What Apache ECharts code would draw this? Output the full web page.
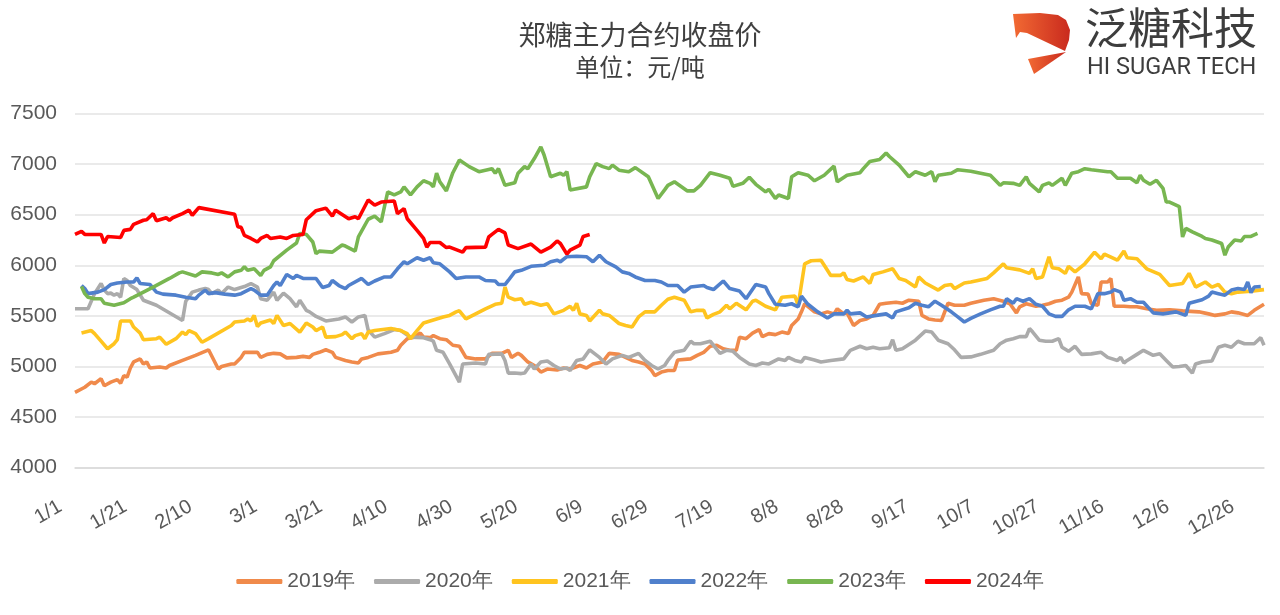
<!DOCTYPE html>
<html>
<head>
<meta charset="utf-8">
<script src="https://cdn.jsdelivr.net/npm/echarts@6/dist/echarts.min.js"></script>
<style>html,body{margin:0;padding:0;background:#fff}#c{width:1280px;height:615px}</style>
</head>
<body>
<div id="c"></div>
<script>
// categories: calendar days (leap-year calendar, m/d)
const monthDays = [31,29,31,30,31,30,31,31,30,31,30,31];
const dates = [];
monthDays.forEach((n, m) => { for (let d = 1; d <= n; d++) dates.push((m + 1) + '/' + d); });

const yTicks = {min: 4000, max: 7500, step: 500};
const legendNames = ['2019年','2020年','2021年','2022年','2023年','2024年'];

const s2019 = [['1/1',4745],['1/4',4795],['1/6',4845],['1/7',4830],['1/9',4880],['1/10',4810],['1/12',4845],['1/14',4870],['1/15',4835],['1/16',4910],['1/17',4895],['1/18',4985],['1/19',5045],['1/21',5075],['1/22',5025],['1/23',5045],['1/24',4985],['1/27',4995],['1/29',4985],['1/30',5010],['2/3',5060],['2/7',5110],['2/11',5165],['2/14',4975],['2/15',5000],['2/18',5025],['2/19',5025],['2/21',5090],['2/22',5140],['2/26',5140],['2/27',5090],['2/29',5120],['3/2',5130],['3/4',5125],['3/6',5085],['3/9',5090],['3/11',5100],['3/13',5090],['3/14',5120],['3/16',5140],['3/18',5165],['3/20',5140],['3/21',5090],['3/24',5060],['3/26',5045],['3/28',5035],['3/29',5075],['3/31',5090],['4/3',5125],['4/7',5140],['4/9',5160],['4/10',5210],['4/12',5275],['4/14',5290],['4/16',5330],['4/17',5290],['4/19',5285],['4/20',5305],['4/22',5275],['4/24',5265],['4/26',5210],['4/28',5200],['4/30',5090],['5/3',5075],['5/6',5075],['5/8',5130],['5/11',5130],['5/13',5160],['5/14',5090],['5/16',5130],['5/17',5110],['5/19',5045],['5/21',5010],['5/23',4945],['5/25',4975],['5/28',4965],['5/30',4985],['6/1',4975],['6/4',5010],['6/6',4985],['6/8',5025],['6/11',5045],['6/13',5130],['6/16',5120],['6/18',5090],['6/20',5060],['6/22',5045],['6/24',5025],['6/26',4960],['6/27',4910],['6/29',4945],['7/1',4960],['7/3',4960],['7/4',5065],['7/8',5075],['7/10',5110],['7/12',5140],['7/14',5200],['7/16',5210],['7/18',5175],['7/20',5160],['7/22',5160],['7/23',5290],['7/25',5275],['7/27',5330],['7/29',5365],['7/30',5295],['8/1',5325],['8/3',5315],['8/5',5340],['8/7',5325],['8/8',5405],['8/10',5470],['8/11',5540],['8/12',5620],['8/15',5540],['8/17',5520],['8/19',5540],['8/21',5520],['8/22',5570],['8/24',5520],['8/25',5530],['8/27',5405],['8/29',5455],['8/31',5470],['9/2',5505],['9/4',5615],['9/6',5625],['9/9',5635],['9/11',5625],['9/13',5655],['9/16',5645],['9/17',5505],['9/19',5470],['9/21',5460],['9/23',5455],['9/25',5625],['9/27',5605],['9/30',5605],['10/2',5625],['10/6',5655],['10/9',5670],['10/12',5645],['10/14',5620],['10/16',5530],['10/17',5590],['10/19',5620],['10/22',5595],['10/24',5605],['10/26',5620],['10/28',5645],['10/30',5655],['11/1',5685],['11/2',5735],['11/4',5885],['11/5',5720],['11/7',5715],['11/8',5620],['11/10',5605],['11/11',5835],['11/13',5835],['11/14',5870],['11/15',5595],['11/18',5595],['11/20',5590],['11/22',5590],['11/25',5570],['11/28',5555],['12/2',5560],['12/6',5550],['12/11',5540],['12/14',5520],['12/16',5505],['12/19',5520],['12/21',5540],['12/23',5530],['12/26',5505],['12/28',5555],['12/31',5615]];

const s2020 = [['1/1',5570],['1/5',5570],['1/7',5720],['1/9',5820],['1/10',5755],['1/11',5720],['1/12',5725],['1/13',5705],['1/14',5720],['1/15',5685],['1/16',5870],['1/17',5850],['1/18',5800],['1/20',5760],['1/22',5655],['1/26',5605],['2/3',5455],['2/4',5645],['2/6',5735],['2/8',5755],['2/10',5770],['2/11',5760],['2/12',5720],['2/14',5755],['2/15',5720],['2/17',5785],['2/19',5760],['2/20',5770],['2/22',5790],['2/24',5820],['2/26',5785],['2/27',5670],['2/29',5655],['3/2',5735],['3/3',5655],['3/5',5725],['3/7',5670],['3/9',5590],['3/10',5655],['3/12',5555],['3/13',5540],['3/15',5495],['3/18',5450],['3/20',5460],['3/22',5470],['3/24',5490],['3/26',5440],['3/28',5490],['3/30',5505],['3/31',5360],['4/2',5290],['4/5',5325],['4/8',5365],['4/10',5355],['4/13',5290],['4/17',5285],['4/19',5265],['4/20',5250],['4/21',5160],['4/23',5140],['4/25',5025],['4/28',4845],['4/29',5025],['5/3',5035],['5/6',5025],['5/7',5120],['5/11',5125],['5/12',5060],['5/13',4935],['5/15',4935],['5/17',4930],['5/18',4935],['5/20',5025],['5/21',4975],['5/23',5045],['5/25',5055],['5/27',5010],['5/29',4975],['5/31',4985],['6/1',4960],['6/3',5060],['6/5',5075],['6/7',5165],['6/10',5090],['6/12',5025],['6/14',5075],['6/17',5110],['6/19',5090],['6/22',5130],['6/24',5060],['6/26',5010],['6/28',4975],['6/30',5010],['7/1',5060],['7/3',5140],['7/6',5160],['7/8',5250],['7/9',5225],['7/11',5225],['7/14',5250],['7/17',5130],['7/19',5160],['7/21',5150],['7/23',5090],['7/26',5025],['7/28',5010],['7/30',5035],['8/1',5025],['8/4',5075],['8/6',5060],['8/7',5090],['8/9',5060],['8/11',5045],['8/12',5090],['8/15',5065],['8/17',5045],['8/20',5060],['8/24',5075],['8/26',5160],['8/29',5200],['8/31',5175],['9/2',5190],['9/4',5175],['9/7',5185],['9/8',5265],['9/9',5160],['9/11',5175],['9/15',5260],['9/18',5350],['9/20',5340],['9/22',5260],['9/25',5225],['9/27',5165],['9/29',5090],['10/2',5095],['10/5',5120],['10/9',5160],['10/11',5225],['10/13',5260],['10/15',5275],['10/17',5295],['10/19',5295],['10/20',5375],['10/21',5340],['10/23',5260],['10/25',5250],['10/27',5250],['10/29',5275],['10/30',5190],['11/1',5150],['11/3',5200],['11/5',5120],['11/8',5125],['11/11',5140],['11/13',5090],['11/16',5060],['11/17',5090],['11/18',5035],['11/19',5060],['11/22',5120],['11/24',5160],['11/27',5110],['11/29',5125],['12/1',5060],['12/3',4995],['12/5',5000],['12/7',5010],['12/9',4935],['12/10',5025],['12/12',5045],['12/15',5055],['12/17',5190],['12/19',5210],['12/21',5190],['12/23',5250],['12/25',5225],['12/28',5225],['12/30',5285],['12/31',5210]];

const s2021 = [['1/3',5330],['1/6',5355],['1/7',5325],['1/9',5250],['1/11',5175],['1/13',5225],['1/14',5265],['1/15',5450],['1/18',5450],['1/19',5390],['1/21',5330],['1/22',5265],['1/26',5275],['1/27',5290],['1/29',5220],['2/1',5275],['2/3',5340],['2/4',5315],['2/5',5355],['2/7',5325],['2/9',5240],['2/11',5275],['2/18',5405],['2/19',5440],['2/22',5450],['2/23',5470],['2/24',5450],['2/25',5505],['2/26',5395],['2/27',5430],['3/1',5460],['3/2',5425],['3/3',5505],['3/5',5405],['3/7',5425],['3/10',5340],['3/12',5430],['3/14',5390],['3/15',5355],['3/17',5390],['3/18',5290],['3/21',5295],['3/23',5315],['3/24',5340],['3/26',5275],['3/27',5305],['3/29',5325],['3/30',5275],['3/31',5340],['4/2',5355],['4/7',5375],['4/10',5355],['4/12',5325],['4/13',5275],['4/15',5355],['4/17',5430],['4/20',5460],['4/23',5490],['4/25',5505],['4/27',5540],['4/28',5550],['4/30',5470],['5/3',5520],['5/6',5570],['5/9',5615],['5/11',5625],['5/12',5785],['5/13',5685],['5/15',5660],['5/17',5670],['5/18',5615],['5/20',5635],['5/23',5605],['5/25',5620],['5/27',5520],['5/30',5555],['6/1',5595],['6/2',5555],['6/3',5625],['6/4',5520],['6/6',5505],['6/7',5450],['6/10',5555],['6/11',5520],['6/13',5505],['6/16',5425],['6/18',5405],['6/20',5390],['6/22',5490],['6/24',5540],['6/27',5540],['6/29',5605],['7/1',5665],['7/3',5685],['7/6',5655],['7/8',5540],['7/10',5555],['7/12',5555],['7/13',5480],['7/15',5515],['7/17',5540],['7/19',5605],['7/20',5570],['7/22',5625],['7/25',5560],['7/27',5645],['7/28',5655],['7/31',5595],['8/3',5560],['8/5',5685],['8/9',5695],['8/10',5605],['8/12',6015],['8/14',6045],['8/17',6050],['8/18',6000],['8/20',5900],['8/23',5900],['8/24',5925],['8/25',5860],['8/27',5845],['8/30',5885],['9/1',5820],['9/2',5910],['9/5',5935],['9/8',5965],['9/10',5870],['9/12',5850],['9/15',5785],['9/16',5885],['9/18',5825],['9/22',5755],['9/24',5800],['9/26',5810],['9/27',5770],['9/30',5825],['10/2',5835],['10/7',5870],['10/9',5925],['10/12',6015],['10/13',5975],['10/17',5955],['10/20',5920],['10/21',5965],['10/22',5870],['10/24',5885],['10/26',6085],['10/27',5975],['10/29',5965],['10/31',5920],['11/1',5990],['11/3',5935],['11/6',6015],['11/9',6130],['11/11',6065],['11/12',6110],['11/16',6050],['11/18',6140],['11/19',6075],['11/22',6065],['11/25',5965],['11/29',5910],['12/2',5800],['12/6',5820],['12/8',5920],['12/10',5785],['12/13',5835],['12/15',5785],['12/17',5810],['12/19',5735],['12/21',5720],['12/23',5735],['12/27',5745],['12/31',5760]];

const s2022 = [['1/3',5800],['1/4',5770],['1/5',5720],['1/8',5735],['1/10',5760],['1/12',5810],['1/14',5825],['1/17',5835],['1/19',5835],['1/20',5875],['1/21',5820],['1/24',5810],['1/26',5735],['1/28',5715],['2/1',5705],['2/4',5685],['2/7',5670],['2/8',5705],['2/10',5755],['2/11',5720],['2/13',5730],['2/16',5715],['2/19',5705],['2/21',5720],['2/24',5770],['2/25',5755],['2/27',5705],['2/29',5705],['3/2',5800],['3/3',5835],['3/4',5800],['3/6',5910],['3/8',5870],['3/9',5900],['3/11',5870],['3/15',5870],['3/17',5780],['3/19',5800],['3/20',5850],['3/22',5800],['3/24',5770],['3/25',5800],['3/29',5870],['3/31',5810],['4/2',5845],['4/5',5885],['4/7',5885],['4/9',5965],['4/11',6035],['4/12',6015],['4/15',6075],['4/17',6050],['4/19',6075],['4/20',6025],['4/22',6015],['4/25',5935],['4/27',5870],['4/30',5885],['5/4',5885],['5/6',5850],['5/9',5845],['5/10',5810],['5/12',5810],['5/13',5850],['5/15',5935],['5/17',5950],['5/20',5990],['5/24',6000],['5/26',6035],['5/28',6050],['5/29',6035],['5/31',6085],['6/3',6090],['6/6',6085],['6/8',6035],['6/10',6100],['6/12',6035],['6/15',5985],['6/17',5935],['6/19',5920],['6/21',5885],['6/24',5850],['6/27',5850],['6/29',5835],['7/1',5800],['7/4',5800],['7/6',5735],['7/8',5785],['7/12',5800],['7/13',5780],['7/15',5760],['7/18',5845],['7/20',5770],['7/23',5745],['7/25',5670],['7/28',5810],['7/31',5785],['8/1',5720],['8/3',5615],['8/6',5605],['8/8',5620],['8/10',5590],['8/11',5695],['8/13',5615],['8/16',5540],['8/19',5480],['8/21',5520],['8/24',5520],['8/25',5555],['8/26',5520],['8/29',5530],['8/31',5490],['9/3',5505],['9/6',5520],['9/8',5480],['9/9',5540],['9/13',5580],['9/15',5625],['9/17',5605],['9/19',5590],['9/21',5645],['9/23',5605],['9/26',5540],['9/28',5490],['9/30',5440],['10/2',5475],['10/5',5520],['10/8',5560],['10/11',5595],['10/12',5595],['10/13',5670],['10/15',5625],['10/16',5670],['10/18',5645],['10/20',5670],['10/22',5615],['10/24',5595],['10/26',5520],['10/28',5495],['10/30',5495],['11/1',5560],['11/3',5595],['11/6',5595],['11/8',5570],['11/10',5720],['11/12',5720],['11/14',5735],['11/15',5760],['11/17',5735],['11/18',5655],['11/20',5670],['11/22',5635],['11/24',5635],['11/27',5530],['11/30',5520],['12/4',5540],['12/7',5505],['12/8',5625],['12/12',5660],['12/14',5695],['12/15',5735],['12/17',5720],['12/19',5705],['12/21',5755],['12/23',5770],['12/25',5760],['12/26',5835],['12/27',5730],['12/28',5785],['12/30',5790]];

const s2023 = [['1/3',5790],['1/4',5720],['1/5',5685],['1/7',5670],['1/9',5670],['1/10',5625],['1/13',5605],['1/16',5630],['1/18',5670],['1/19',5685],['1/25',5785],['1/30',5870],['2/2',5925],['2/3',5935],['2/7',5895],['2/9',5935],['2/12',5925],['2/14',5910],['2/15',5925],['2/17',5885],['2/19',5935],['2/21',5950],['2/22',5985],['2/23',5950],['2/25',5965],['2/27',5900],['2/28',5950],['3/1',5985],['3/2',6045],['3/6',6150],['3/9',6220],['3/10',6315],['3/12',6305],['3/14',6230],['3/15',6115],['3/16',6140],['3/20',6130],['3/23',6200],['3/24',6190],['3/27',6140],['3/28',6280],['3/31',6455],['4/2',6485],['4/4',6430],['4/5',6580],['4/6',6725],['4/8',6695],['4/10',6725],['4/11',6775],['4/13',6695],['4/15',6775],['4/17',6835],['4/19',6810],['4/20',6775],['4/21',6910],['4/22',6825],['4/24',6735],['4/26',6915],['4/28',7040],['5/1',6975],['5/4',6925],['5/8',6955],['5/9',6910],['5/10',6955],['5/12',6790],['5/15',6815],['5/16',6910],['5/18',6975],['5/19',6955],['5/21',7055],['5/23',7170],['5/24',7090],['5/26',6875],['5/29',6910],['5/30',6890],['5/31',6925],['6/1',6745],['6/6',6775],['6/7',6875],['6/9',7005],['6/11',6975],['6/13',6955],['6/14',6990],['6/16',6940],['6/19',6925],['6/21',6965],['6/25',6875],['6/28',6660],['6/30',6745],['7/1',6790],['7/3',6825],['7/7',6735],['7/9',6735],['7/11',6790],['7/14',6915],['7/17',6890],['7/20',6860],['7/21',6780],['7/24',6810],['7/26',6870],['7/28',6800],['7/31',6725],['8/1',6750],['8/3',6660],['8/4',6695],['8/7',6660],['8/8',6875],['8/10',6915],['8/13',6890],['8/15',6835],['8/18',6890],['8/21',6980],['8/22',6825],['8/25',6890],['8/29',6915],['8/30',6955],['9/1',7025],['9/4',7045],['9/6',7110],['9/7',7075],['9/10',6990],['9/13',6875],['9/15',6925],['9/18',6890],['9/20',6925],['9/21',6825],['9/22',6890],['9/26',6910],['9/28',6945],['10/2',6930],['10/8',6890],['10/11',6790],['10/12',6815],['10/15',6810],['10/17',6790],['10/19',6875],['10/20',6810],['10/23',6725],['10/24',6790],['10/26',6815],['10/27',6790],['10/30',6860],['10/31',6790],['11/2',6910],['11/4',6925],['11/6',6955],['11/8',6945],['11/13',6925],['11/14',6925],['11/16',6860],['11/20',6860],['11/22',6815],['11/23',6890],['11/24',6840],['11/26',6800],['11/28',6840],['11/30',6760],['12/1',6625],['12/2',6625],['12/5',6580],['12/6',6280],['12/7',6365],['12/9',6330],['12/12',6285],['12/13',6265],['12/15',6250],['12/18',6215],['12/19',6100],['12/20',6180],['12/22',6250],['12/24',6240],['12/25',6285],['12/27',6285],['12/29',6315]];

const s2024 = [['1/1',6305],['1/3',6335],['1/4',6305],['1/9',6305],['1/10',6220],['1/11',6285],['1/15',6275],['1/16',6345],['1/18',6355],['1/19',6405],['1/22',6445],['1/23',6450],['1/25',6510],['1/26',6440],['1/29',6470],['1/30',6445],['1/31',6470],['2/3',6510],['2/5',6545],['2/6',6495],['2/8',6570],['2/19',6505],['2/20',6380],['2/21',6375],['2/22',6295],['2/24',6265],['2/26',6230],['2/27',6265],['2/29',6295],['3/1',6265],['3/4',6280],['3/6',6265],['3/8',6295],['3/11',6305],['3/12',6450],['3/15',6540],['3/18',6565],['3/20',6485],['3/21',6545],['3/25',6460],['3/27',6480],['3/28',6460],['3/31',6645],['4/2',6595],['4/4',6625],['4/8',6635],['4/9',6510],['4/11',6560],['4/12',6460],['4/15',6345],['4/17',6265],['4/18',6180],['4/19',6225],['4/22',6225],['4/24',6175],['4/25',6180],['4/29',6130],['4/30',6175],['5/6',6180],['5/7',6280],['5/8',6305],['5/10',6355],['5/12',6320],['5/13',6200],['5/16',6165],['5/20',6210],['5/23',6130],['5/26',6180],['5/28',6240],['5/29',6215],['5/31',6110],['6/1',6150],['6/4',6200],['6/5',6285],['6/7',6305]];

const seriesData = [s2019, s2020, s2021, s2022, s2023, s2024];
const colors = ['#F08A4B', '#ABABAB', '#FFC41F', '#5080CC', '#78B651', '#FF0000'];

const logoGrad = {type: 'linear', x: 0, y: 0, x2: 1, y2: 0,
  colorStops: [{offset: 0, color: '#F26A33'}, {offset: 1, color: '#C92A1E'}]};

const chart = echarts.init(document.getElementById('c'));
chart.setOption({
  animation: false,
  backgroundColor: '#ffffff',
  color: colors,
  title: {
    text: '郑糖主力合约收盘价',
    subtext: '单位：元/吨',
    left: 'center',
    top: 16,
    itemGap: 7,
    textStyle: {fontSize: 27, fontWeight: 'normal', color: '#404040', fontFamily: 'Noto Sans CJK SC'},
    subtextStyle: {fontSize: 24, color: '#404040', fontFamily: 'Noto Sans CJK SC'}
  },
  graphic: [
    {type: 'polygon', shape: {points: [[1013,14],[1040,13],[1058,15],[1066,20],[1070,30],[1069,40],[1065,51],[1027,33],[1020,32],[1016,38]]},
     style: {fill: logoGrad}},
    {type: 'polygon', shape: {points: [[1028,59],[1066,52],[1034,74]]},
     style: {fill: logoGrad}},
    {type: 'text', left: 1085, top: 6, style: {text: '泛糖科技', fontSize: 43, fontFamily: 'Noto Sans CJK SC', fill: '#3d3d3d'}},
    {type: 'text', left: 1087, top: 56, style: {text: 'HI SUGAR TECH', fontSize: 23.5, fontFamily: 'Roboto', fill: '#3d3d3d'}}
  ],
  legend: {
    data: legendNames,
    bottom: 18,
    left: 'center',
    icon: 'roundRect',
    itemWidth: 46,
    itemHeight: 5,
    itemGap: 19,
    textStyle: {fontSize: 21, color: '#595959', fontFamily: 'Liberation Sans'}
  },
  grid: {left: 75, right: 16, top: 113.5, bottom: 147.3},
  xAxis: {
    type: 'category',
    data: dates,
    boundaryGap: false,
    axisLine: {show: true, lineStyle: {color: '#D9D9D9', width: 1.5}},
    axisTick: {show: false},
    axisLabel: {interval: 19, rotate: 30, margin: 29, fontSize: 20, color: '#595959',
                fontFamily: 'Liberation Sans', padding: [0, 17, 0, 0]},
    splitLine: {show: false}
  },
  yAxis: {
    type: 'value',
    min: yTicks.min, max: yTicks.max, interval: yTicks.step,
    axisLine: {show: false},
    axisTick: {show: false},
    axisLabel: {fontSize: 21, color: '#595959', margin: 18, fontFamily: 'Liberation Sans',
                formatter: v => String(v)},
    splitLine: {lineStyle: {color: '#E3E3E3', width: 1.5}}
  },
  series: seriesData.map((d, i) => ({
    name: legendNames[i],
    type: 'line',
    data: d,
    showSymbol: false,
    symbol: 'none',
    lineStyle: {width: 3.6, color: colors[i]},
    itemStyle: {color: colors[i]},
    z: 2 + i
  }))
});
</script>
</body>
</html>
